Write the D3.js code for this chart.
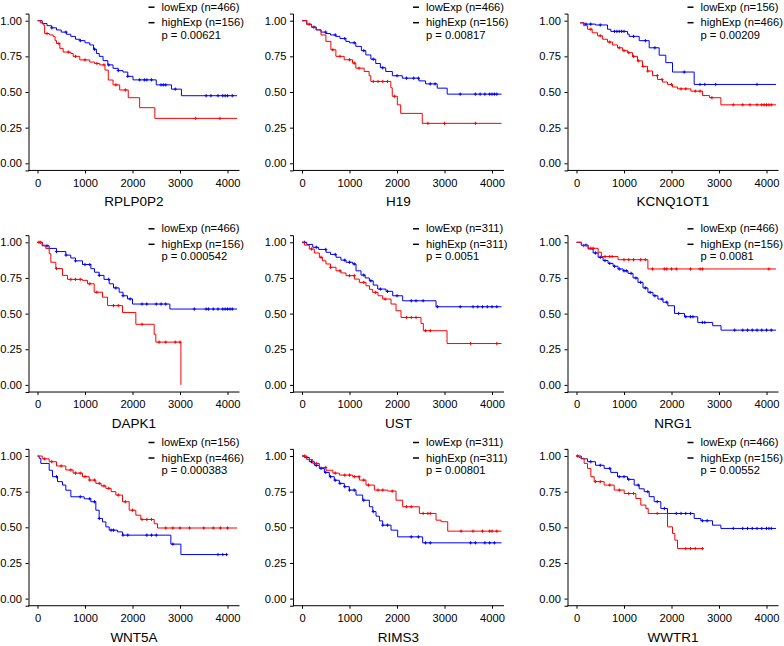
<!DOCTYPE html>
<html>
<head>
<meta charset="utf-8">
<script src="https://cdn.jsdelivr.net/npm/d3@7"></script>
<style>
body { margin: 0; background: #fff; }
svg { display: block; font-family: "Liberation Sans", Arial, sans-serif; }
.axis path, .axis line { stroke: #000; }
.axis text { fill: #000; font-size: 11.2px; }
</style>
</head>
<body>
<svg width="784" height="646"></svg>
<script>
// panel labels
const genes = ["RPLP0P2", "H19", "KCNQ1OT1", "DAPK1", "UST", "NRG1", "WNT5A", "RIMS3", "WWTR1"];
const lowN = [466, 466, 156, 466, 311, 466, 156, 311, 466];
const highN = [156, 156, 466, 156, 311, 156, 466, 311, 156];
const pValues = ["0.00621", "0.00817", "0.00209", "0.000542", "0.0051", "0.0081", "0.000383", "0.00801", "0.00552"];
const xTicks = [0, 1000, 2000, 3000, 4000];
const yTicks = [0, 0.25, 0.5, 0.75, 1];

// KM steps [days, survival]
const rplp0p2Low = [[0,1],[100,0.98],[200,0.965],[300,0.95],[400,0.935],[500,0.92],[610,0.905],[700,0.89],[800,0.87],[900,0.86],[1000,0.845],[1100,0.83],[1180,0.8],[1240,0.77],[1300,0.75],[1380,0.72],[1480,0.69],[1590,0.666],[1700,0.65],[1800,0.64],[1900,0.61],[2010,0.585],[2500,0.55],[2820,0.52],[3030,0.474]];
const rplp0p2High = [[0,1],[60,0.985],[120,0.97],[150,0.91],[250,0.9],[330,0.888],[370,0.86],[400,0.84],[470,0.806],[540,0.78],[700,0.77],[750,0.75],[890,0.725],[1100,0.71],[1200,0.7],[1310,0.69],[1420,0.654],[1490,0.584],[1590,0.55],[1730,0.514],[1910,0.46],[2150,0.39],[2470,0.315]];
const h19Low = [[0,1],[100,0.975],[200,0.955],[300,0.935],[400,0.92],[503,0.91],[600,0.9],[713,0.89],[800,0.875],[923,0.855],[1000,0.845],[1133,0.82],[1250,0.79],[1343,0.76],[1450,0.73],[1552,0.7],[1650,0.67],[1762,0.644],[1902,0.614],[2112,0.597],[2462,0.578],[2601,0.557],[2846,0.527],[3056,0.485]];
const h19High = [[0,1],[100,0.975],[200,0.955],[294,0.937],[400,0.9],[503,0.855],[608,0.796],[713,0.75],[888,0.726],[1063,0.703],[1133,0.667],[1308,0.644],[1413,0.614],[1448,0.574],[1870,0.53],[1900,0.47],[2007,0.41],[2077,0.35],[2531,0.28]];
const kcnqLow = [[77,0.985],[161,0.976],[400,0.97],[653,0.94],[723,0.925],[1074,0.906],[1109,0.89],[1320,0.86],[1530,0.81],[1740,0.758],[1880,0.706],[2021,0.64],[2477,0.553]];
const kcnqHigh = [[77,0.985],[150,0.965],[232,0.94],[330,0.915],[442,0.894],[550,0.87],[653,0.85],[760,0.83],[863,0.81],[970,0.79],[1074,0.776],[1180,0.75],[1284,0.718],[1390,0.68],[1495,0.647],[1600,0.615],[1705,0.588],[1810,0.57],[1916,0.553],[2020,0.535],[2126,0.522],[2407,0.506],[2653,0.475],[2800,0.46],[3039,0.41]];
const dapk1Low = [[0,1],[100,0.975],[246,0.957],[400,0.935],[596,0.91],[700,0.89],[800,0.87],[947,0.844],[1123,0.815],[1200,0.79],[1298,0.768],[1400,0.74],[1509,0.709],[1600,0.68],[1719,0.65],[1800,0.625],[1895,0.603],[2000,0.567],[2786,0.532]];
const dapk1High = [[0,1],[100,0.98],[175,0.957],[246,0.92],[281,0.86],[386,0.816],[526,0.768],[632,0.74],[947,0.733],[1053,0.709],[1193,0.65],[1368,0.615],[1474,0.556],[1789,0.508],[2070,0.425],[2456,0.355],[2491,0.3],[3018,0]];
const ustLow = [[0,1],[100,0.985],[225,0.965],[350,0.95],[505,0.93],[600,0.915],[716,0.895],[820,0.875],[926,0.86],[1067,0.848],[1137,0.8],[1242,0.77],[1330,0.75],[1418,0.73],[1500,0.7],[1593,0.672],[1768,0.656],[1909,0.625],[2119,0.59],[2821,0.548]];
const ustHigh = [[0,1],[50,0.98],[154,0.953],[260,0.925],[365,0.895],[430,0.87],[505,0.848],[600,0.825],[716,0.8],[820,0.785],[926,0.766],[1102,0.742],[1207,0.719],[1347,0.695],[1420,0.67],[1488,0.649],[1600,0.625],[1698,0.602],[1874,0.567],[1979,0.52],[2084,0.473],[2505,0.431],[2554,0.38],[3053,0.29]];
const nrg1Low = [[0,1],[100,0.98],[245,0.953],[350,0.925],[455,0.895],[560,0.872],[664,0.852],[770,0.832],[874,0.813],[980,0.8],[1084,0.782],[1190,0.75],[1294,0.719],[1400,0.68],[1503,0.649],[1610,0.625],[1713,0.602],[1820,0.58],[1923,0.555],[2063,0.501],[2273,0.478],[2552,0.438],[2867,0.415],[3042,0.384]];
const nrg1High = [[0,1],[105,0.977],[245,0.958],[455,0.93],[524,0.9],[874,0.878],[1503,0.813]];
const wnt5aLow = [[0,1],[35,0.984],[70,0.948],[246,0.9],[316,0.855],[421,0.82],[526,0.796],[596,0.76],[702,0.714],[982,0.7],[1123,0.679],[1228,0.62],[1298,0.562],[1368,0.538],[1439,0.503],[1509,0.48],[1684,0.468],[1789,0.445],[2807,0.382],[3018,0.309]];
const wnt5aHigh = [[0,1],[100,0.98],[246,0.96],[400,0.93],[596,0.902],[750,0.88],[947,0.855],[1088,0.831],[1228,0.808],[1340,0.79],[1439,0.773],[1550,0.75],[1649,0.726],[1789,0.679],[1930,0.62],[2070,0.585],[2175,0.555],[2456,0.525],[2526,0.495]];
const rims3Low = [[0,1],[50,0.99],[154,0.96],[260,0.935],[365,0.913],[470,0.885],[575,0.855],[680,0.83],[786,0.808],[890,0.785],[996,0.761],[1137,0.726],[1277,0.69],[1418,0.644],[1490,0.61],[1558,0.578],[1630,0.545],[1698,0.515],[1874,0.48],[2014,0.433],[2540,0.391]];
const rims3High = [[0,1],[100,0.975],[225,0.948],[365,0.92],[505,0.9],[650,0.88],[786,0.866],[1067,0.855],[1207,0.831],[1347,0.796],[1523,0.761],[1804,0.754],[1979,0.69],[2119,0.644],[2470,0.597],[2821,0.55],[2926,0.539],[3067,0.473]];
const wwtr1Low = [[0,1],[100,0.98],[232,0.96],[400,0.935],[582,0.913],[720,0.885],[863,0.855],[1074,0.836],[1214,0.796],[1320,0.77],[1425,0.75],[1530,0.715],[1635,0.68],[1775,0.632],[1916,0.597],[2477,0.562],[2618,0.546],[2863,0.515],[3039,0.492]];
const wwtr1High = [[0,1],[50,0.99],[91,0.984],[161,0.948],[232,0.913],[302,0.855],[372,0.82],[582,0.796],[793,0.761],[1004,0.737],[1249,0.702],[1354,0.656],[1460,0.632],[1509,0.597],[1916,0.503],[2021,0.457],[2070,0.41],[2126,0.351]];

// last follow-up time of each curve
const lowEnd = [4200, 4200, 4200, 4200, 4200, 4200, 3986, 4200, 4200];
const highEnd = [4200, 4200, 4200, 3018, 4200, 4200, 4200, 4200, 2653];

// censoring times
const rplp0p2LowCens = [300,600,900,1200,1500,1700,1900,2150,2250,2300,2400,2600,2650,2700,2900,3550,3650,3800,3900,3950,4000,4100];
const rplp0p2HighCens = [200,450,650,800,1000,1250,1400,1650,1850,3330,3840];
const h19LowCens = [250,500,700,900,1100,1300,1500,1700,2000,2200,2350,2450,2700,2800,3330,3650,3750,3850,3950,4000,4050,4100];
const h19HighCens = [150,650,800,1000,1100,1200,1500,1600,1700,1800,1950,2650,3000,3650];
const kcnqLowCens = [200,300,500,800,850,900,950,1000,1200,1450,1650,2267,2600,2700,2930,3800];
const kcnqHighCens = [300,500,700,900,1000,1100,1200,1300,1400,1500,1700,1800,2000,2200,2300,2500,2600,2850,3300,3500,3650,3800,3900,3950,4000,4050,4100];
const dapk1LowCens = [200,400,600,800,1000,1100,1300,1500,1650,1800,1950,2200,2300,2500,2600,2700,3300,3550,3600,3700,3800,3900,3950,4000,4050,4100];
const dapk1HighCens = [30,60,400,700,800,900,1100,1250,1600,1700,2200,2560,2700,2900,3000];
const ustLowCens = [50,300,500,700,900,1000,1100,1300,1450,1650,1800,2000,2300,2400,2550,2850,3330,3600,3700,3800,3900,4000,4100];
const ustHighCens = [200,400,600,800,1000,1100,1300,1550,1750,2200,2300,2400,2600,2700,3550,4100];
const nrg1LowCens = [200,400,500,600,700,800,900,1000,1050,1150,1250,1350,1450,1550,1650,1800,1900,2150,2300,2400,2450,2650,2700,3330,3500,3600,3700,3800,3900,4000,4100];
const nrg1HighCens = [150,300,350,600,700,750,1000,1100,1200,1350,1450,1600,1850,1900,2000,2100,2400,2600,2650,4050];
const wnt5aLowCens = [400,900,1100,1200,1300,1550,1600,1800,1900,2300,2400,2500,2850,3800,3900,3980];
const wnt5aHighCens = [150,300,500,700,800,900,1000,1100,1200,1300,1400,1500,1700,1850,2000,2200,2300,2400,2700,2850,3000,3200,3500,3700,3850,4000];
const rims3LowCens = [100,200,300,400,500,600,700,800,900,1000,1100,1300,1500,1700,1800,2300,2450,2600,2700,3550,3650,3850,3950,4050];
const rims3HighCens = [50,300,500,700,900,1000,1100,1200,1300,1400,1600,1700,1900,2200,2300,2550,2650,2700,3350,3600,3800,3950,4000,4100];
const wwtr1LowCens = [300,500,700,900,1000,1100,1300,1500,1700,1850,2100,2200,2300,2400,2650,2750,3300,3500,3600,3700,3800,3900,4000,4050,4100];
const wwtr1HighCens = [20,400,500,700,900,1100,1200,1700,2300,2400,2500,2650];

const lowCurves = [rplp0p2Low, h19Low, kcnqLow, dapk1Low, ustLow, nrg1Low, wnt5aLow, rims3Low, wwtr1Low];
const highCurves = [rplp0p2High, h19High, kcnqHigh, dapk1High, ustHigh, nrg1High, wnt5aHigh, rims3High, wwtr1High];
const lowCens = [rplp0p2LowCens, h19LowCens, kcnqLowCens, dapk1LowCens, ustLowCens, nrg1LowCens, wnt5aLowCens, rims3LowCens, wwtr1LowCens];
const highCens = [rplp0p2HighCens, h19HighCens, kcnqHighCens, dapk1HighCens, ustHighCens, nrg1HighCens, wnt5aHighCens, rims3HighCens, wwtr1HighCens];

const colLeft = [28.5, 293, 567.5];
const rowTop = [20.7, 242.3, 456];
const unitH = 142.6;
const axisW = 211;

const svg = d3.select("svg");

const drawPanel = (i) => {
    const left = colLeft[i % 3];
    const top = rowTop[Math.floor(i / 3)];

    const x = d3.scaleLinear().domain([-189.5, 4252]).range([left, left + axisW]);
    const y = d3.scaleLinear().domain([-0.05, 1.05]).range([top + unitH * 1.05, top - unitH * 0.05]);

    const g = svg.append("g");

    g.append("g")
        .attr("class", "axis")
        .attr("transform", "translate(0," + y(-0.05) + ")")
        .call(d3.axisBottom(x).tickValues(xTicks).tickFormat(d3.format("d")).tickSizeOuter(0).tickSize(3).tickPadding(5.5))
        .call(a => a.select(".domain").attr("d", "M" + left + ",0H" + (left + axisW)));

    g.append("g")
        .attr("class", "axis")
        .attr("transform", "translate(" + left + ",0)")
        .call(d3.axisLeft(y).tickValues(yTicks).tickFormat(d3.format(".2f")).tickSizeOuter(0).tickSize(3).tickPadding(3.5));

    g.selectAll(".axis").attr("font-family", null).attr("font-size", null);

    const line = d3.line()
        .x(d => x(d[0]))
        .y(d => y(d[1]))
        .curve(d3.curveStepAfter);

    const survAt = (pts, t) => {
        const k = d3.bisector(d => d[0]).right(pts, t) - 1;
        return pts[Math.max(0, k)][1];
    };

    const series = [
        { pts: lowCurves[i], end: lowEnd[i], cens: lowCens[i], color: "#0000ff" },
        { pts: highCurves[i], end: highEnd[i], cens: highCens[i], color: "#ff0000" }
    ];

    series.forEach(s => {
        const last = s.pts[s.pts.length - 1];
        const full = last[0] < s.end ? s.pts.concat([[s.end, last[1]]]) : s.pts;
        g.append("path")
            .attr("d", line(full))
            .attr("fill", "none")
            .attr("stroke", s.color)
            .attr("stroke-width", 1);

        g.selectAll(null)
            .data(s.cens)
            .enter()
            .append("path")
            .attr("transform", t => "translate(" + x(t) + "," + y(survAt(s.pts, t)) + ")")
            .attr("d", "M-1.6,0H1.6M0,-1.6V1.6")
            .attr("stroke", s.color)
            .attr("stroke-width", 1);
    });

    // legend
    const lx = left + 120;
    const legend = [
        { label: "lowExp (n=" + lowN[i] + ")", yb: top - 10 },
        { label: "highExp (n=" + highN[i] + ")", yb: top + 5.5 }
    ];
    legend.forEach(l => {
        g.append("line")
            .attr("x1", lx).attr("x2", lx + 6)
            .attr("y1", l.yb - 3.5).attr("y2", l.yb - 3.5)
            .attr("stroke", "#000")
            .attr("stroke-width", 1.5);
        g.append("text")
            .attr("x", lx + 13)
            .attr("y", l.yb)
            .attr("font-size", 11.2)
            .text(l.label);
    });
    g.append("text")
        .attr("x", lx + 13)
        .attr("y", top + 18)
        .attr("font-size", 11.2)
        .text("p = " + pValues[i]);

    g.append("text")
        .attr("x", left + axisW / 2)
        .attr("y", y(-0.05) + 36)
        .attr("text-anchor", "middle")
        .attr("font-size", 13.5)
        .text(genes[i]);
};

genes.forEach((g, i) => drawPanel(i));
</script>
</body>
</html>
